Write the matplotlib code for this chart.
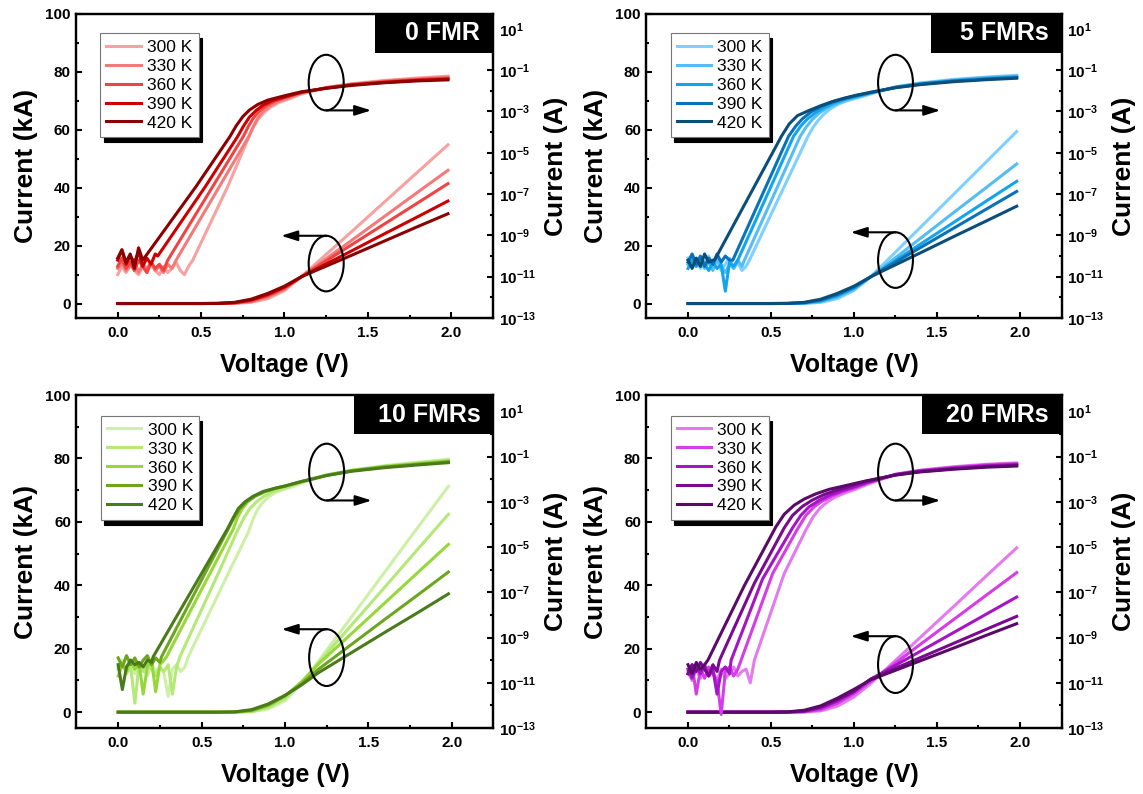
import matplotlib
matplotlib.use('Agg')
import numpy as np
import matplotlib.pyplot as plt
from matplotlib.patches import Ellipse, Rectangle
from matplotlib.ticker import FixedLocator, NullFormatter, FuncFormatter, MultipleLocator

plt.rcParams['font.family'] = ['Liberation Sans', 'DejaVu Sans']
plt.rcParams['font.weight'] = 'bold'
plt.rcParams['mathtext.fontset'] = 'custom'
plt.rcParams['mathtext.rm'] = 'Liberation Sans:bold'
plt.rcParams['mathtext.bf'] = 'Liberation Sans:bold'
plt.rcParams['axes.linewidth'] = 1.6

temps = ['300 K', '330 K', '360 K', '390 K', '420 K']
titles = ['0 FMR', '5 FMRs', '10 FMRs', '20 FMRs']

colors_0 = ['#F7A1A1', '#F47A7A', '#EF4444', '#CC0000', '#8B0000']
colors_5 = ['#7DD0FF', '#55BCF5', '#12A5EE', '#0A72B8', '#0B4E7A']
colors_10 = ['#CDEFA6', '#B4E877', '#96D83A', '#6CA61E', '#4B7A1A']
colors_20 = ['#E57AF0', '#D63CE8', '#A515C5', '#7A0A8F', '#5A0A68']

# linear current (kA) read at these voltages
lin_v = [0.0, 0.5, 0.6, 0.7, 0.8, 0.9, 1.0, 1.1, 1.2, 1.4, 1.6, 1.8, 1.98]

lin_0 = [[0, 0, 0, 0.05, 0.4, 1.7, 4.5, 9.2, 14.4, 24.7, 35.1, 45.5, 54.8],
         [0, 0, 0, 0.1, 0.7, 2.3, 5.0, 9.2, 13.4, 21.7, 30.1, 38.5, 46.0],
         [0, 0, 0.02, 0.2, 0.9, 2.7, 5.3, 9.2, 12.9, 20.2, 27.5, 34.8, 41.4],
         [0, 0, 0.03, 0.3, 1.2, 3.1, 5.7, 9.2, 12.2, 18.1, 24.1, 30.0, 35.4],
         [0, 0, 0.05, 0.4, 1.5, 3.5, 6.0, 9.2, 11.7, 16.6, 21.6, 26.6, 31.0]]
lin_5 = [[0, 0, 0, 0.05, 0.4, 1.7, 4.5, 9.2, 14.9, 26.3, 37.7, 49.1, 59.4],
         [0, 0, 0, 0.1, 0.7, 2.3, 5.0, 9.2, 13.6, 22.5, 31.4, 40.2, 48.2],
         [0, 0, 0.02, 0.2, 0.9, 2.7, 5.3, 9.2, 12.95, 20.5, 28.0, 35.5, 42.2],
         [0, 0, 0.03, 0.3, 1.2, 3.1, 5.7, 9.2, 12.6, 19.3, 26.0, 32.7, 38.7],
         [0, 0, 0.05, 0.4, 1.5, 3.5, 6.0, 9.2, 12.0, 17.5, 23.1, 28.6, 33.6]]
lin_10 = [[0, 0, 0, 0, 0.1, 1.0, 3.6, 9.0, 16.0, 30.1, 44.3, 58.5, 71.2],
          [0, 0, 0, 0, 0.2, 1.5, 4.3, 9.3, 15.5, 27.5, 39.5, 51.6, 62.4],
          [0, 0, 0, 0, 0.4, 2.0, 5.0, 9.6, 15.1, 24.8, 34.5, 44.2, 52.9],
          [0, 0, 0, 0.05, 0.6, 2.3, 5.2, 9.0, 13.5, 21.4, 29.3, 37.1, 44.2],
          [0, 0, 0, 0.1, 0.8, 2.6, 5.3, 8.6, 12.4, 18.8, 25.2, 31.5, 37.3]]
lin_20 = [[0, 0, 0, 0.05, 0.4, 1.9, 4.8, 9.0, 13.9, 23.6, 33.3, 43.1, 51.8],
          [0, 0, 0, 0.1, 0.8, 2.8, 5.8, 9.7, 13.5, 21.4, 29.2, 37.0, 44.0],
          [0, 0, 0.02, 0.25, 1.3, 3.5, 6.4, 10.4, 13.3, 19.2, 25.1, 31.0, 36.3],
          [0, 0, 0.05, 0.4, 1.7, 4.0, 6.6, 10.4, 12.7, 17.2, 21.7, 26.2, 30.2],
          [0, 0, 0.1, 0.6, 2.0, 4.4, 7.2, 10.2, 12.2, 16.2, 20.2, 24.3, 27.9]]

# log10 of current (A): noisy floor sampled on noise_v, then read points (V, log10 I)
noise_v = [0.0, 0.025, 0.05, 0.075, 0.1, 0.125, 0.15, 0.175, 0.2, 0.225,
           0.25, 0.275, 0.3, 0.325, 0.35, 0.375, 0.4, 0.425]

noise_0 = [[-10.9, -10.5, -10.8, -10.4, -10.7, -10.9, -10.5, -10.8, -10.4, -10.7, -10.9, -10.5, -10.8, -10.6, -10.3, -10.7, -10.9, -10.5],
           [-10.6, -10.3, -10.7, -10.5, -10.2, -10.8, -10.4, -10.6, -10.3, -10.7, -10.5, -10.8, -10.4, -10.6],
           [-10.5, -10.1, -10.6, -10.3, -10.7, -10.2, -10.5, -10.8, -10.3, -10.6, -10.4, -10.7],
           [-10.2, -9.7, -10.4, -10.0, -10.3, -9.8, -10.5, -10.1, -10.4, -9.9],
           [-10.1, -9.7, -10.3, -9.9, -10.6, -9.6]]
rise_0 = [[(0.45, -10.2), (0.66, -6.63), (0.78, -4.35), (0.81, -3.8), (0.84, -3.4), (0.875, -3.07),
           (0.915, -2.8), (0.965, -2.57), (1.03, -2.38), (1.1, -2.15),
           (1.25, -1.84), (1.4, -1.66), (1.6, -1.5), (1.8, -1.38), (1.98, -1.29)],
          [(0.35, -10.2), (0.61, -6.63), (0.787, -4.2), (0.815, -3.7), (0.84, -3.32), (0.87, -3.0),
           (0.91, -2.74), (0.96, -2.52), (1.02, -2.35), (1.1, -2.12),
           (1.25, -1.85), (1.4, -1.68), (1.6, -1.53), (1.8, -1.42), (1.98, -1.34)],
          [(0.30, -10.2), (0.57, -6.63), (0.754, -4.2), (0.785, -3.7), (0.815, -3.3), (0.85, -2.97),
           (0.89, -2.72), (0.94, -2.5), (1.0, -2.33), (1.1, -2.09),
           (1.25, -1.86), (1.4, -1.7), (1.6, -1.56), (1.8, -1.46), (1.98, -1.39)],
          [(0.24, -10.0), (0.526, -6.63), (0.72, -4.2), (0.755, -3.7), (0.79, -3.27), (0.83, -2.95),
           (0.87, -2.7), (0.93, -2.47), (1.0, -2.3), (1.1, -2.07),
           (1.25, -1.87), (1.4, -1.72), (1.6, -1.59), (1.8, -1.49), (1.98, -1.43)],
          [(0.15, -10.2), (0.47, -6.63), (0.674, -4.2), (0.71, -3.7), (0.75, -3.25), (0.79, -2.93),
           (0.84, -2.66), (0.9, -2.45), (1.0, -2.24), (1.1, -2.05),
           (1.25, -1.88), (1.4, -1.74), (1.6, -1.61), (1.8, -1.52), (1.98, -1.47)]]

noise_5 = [[-10.1, -10.5, -10.2, -10.6, -10.3, -10.0, -10.5, -10.2, -10.7, -10.4, -10.1, -10.6, -10.3, -10.7, -10.5],
           [-10.4, -10.0, -10.5, -10.2, -10.6, -10.3, -10.7, -10.1, -10.5, -10.8, -10.4, -10.6, -10.2, -10.5],
           [-10.6, -10.2, -10.5, -10.1, -10.4, -10.7, -10.3, -10.6, -10.4, -11.7, -10.3, -10.5],
           [-10.3, -9.9, -10.4, -10.0, -10.5, -10.1, -10.4, -9.9, -10.3, -10.0, -10.2],
           [-10.2, -10.6, -10.1, -10.5, -9.9, -10.3, -10.2]]
rise_5 = [[(0.37, -10.2), (0.58, -6.63), (0.723, -4.2), (0.755, -3.75), (0.785, -3.42), (0.82, -3.12),
           (0.86, -2.86), (0.91, -2.63), (0.97, -2.45), (1.04, -2.3), (1.1, -2.15),
           (1.25, -1.81), (1.4, -1.62), (1.6, -1.45), (1.8, -1.33), (1.98, -1.25)],
          [(0.34, -10.2), (0.54, -6.63), (0.676, -4.2), (0.715, -3.72), (0.75, -3.38), (0.79, -3.08),
           (0.84, -2.82), (0.9, -2.6), (0.96, -2.42), (1.03, -2.28), (1.1, -2.12),
           (1.25, -1.82), (1.4, -1.64), (1.6, -1.48), (1.8, -1.36), (1.98, -1.29)],
          [(0.30, -10.2), (0.50, -6.63), (0.636, -4.2), (0.68, -3.7), (0.72, -3.36), (0.77, -3.05),
           (0.82, -2.8), (0.88, -2.58), (0.95, -2.4), (1.02, -2.26), (1.1, -2.1),
           (1.25, -1.83), (1.4, -1.66), (1.6, -1.51), (1.8, -1.4), (1.98, -1.33)],
          [(0.27, -10.2), (0.47, -6.63), (0.606, -4.2), (0.65, -3.7), (0.69, -3.35), (0.74, -3.03),
           (0.8, -2.76), (0.87, -2.54), (0.94, -2.37), (1.01, -2.24), (1.1, -2.08),
           (1.25, -1.84), (1.4, -1.68), (1.6, -1.53), (1.8, -1.43), (1.98, -1.36)],
          [(0.16, -10.2), (0.40, -6.63), (0.563, -4.2), (0.61, -3.6), (0.66, -3.2), (0.73, -2.95),
           (0.8, -2.72), (0.87, -2.52), (0.94, -2.36), (1.01, -2.22), (1.1, -2.07),
           (1.25, -1.85), (1.4, -1.7), (1.6, -1.56), (1.8, -1.46), (1.98, -1.39)]]

noise_10 = [[-10.3, -10.0, -10.5, -10.2, -10.6, -10.1, -10.4, -10.7, -10.2, -10.5, -10.3, -10.6, -11.6, -10.4, -10.2, -10.5, -10.3],
            [-10.4, -10.1, -10.6, -10.3, -11.9, -10.2, -10.5, -10.1, -10.4, -10.7, -10.3, -10.5, -10.2, -11.5, -10.3],
            [-10.7, -10.2, -10.5, -10.0, -10.4, -10.1, -11.5, -10.3, -10.0, -11.4, -10.2, -10.0],
            [-9.9, -10.3, -9.8, -10.2, -9.9, -10.3, -10.0, -9.8, -10.2, -9.9, -10.1],
            [-10.2, -11.3, -10.3, -10.0, -10.2, -10.1, -10.3, -10.0, -10.1]]
rise_10 = [[(0.42, -9.85), (0.66, -6.17), (0.78, -4.35), (0.81, -3.75), (0.835, -3.35), (0.865, -3.05),
            (0.9, -2.8), (0.94, -2.6), (0.99, -2.46), (1.04, -2.35), (1.1, -2.17),
            (1.25, -1.81), (1.4, -1.6), (1.6, -1.4), (1.8, -1.25), (1.98, -1.12)],
           [(0.37, -9.85), (0.60, -6.17), (0.72, -4.2), (0.755, -3.7), (0.79, -3.3), (0.83, -3.0),
            (0.87, -2.78), (0.92, -2.58), (0.97, -2.44), (1.02, -2.33), (1.1, -2.14),
            (1.25, -1.82), (1.4, -1.61), (1.6, -1.42), (1.8, -1.28), (1.98, -1.16)],
           [(0.29, -9.85), (0.55, -6.17), (0.69, -4.2), (0.715, -3.7), (0.745, -3.3), (0.78, -2.98),
            (0.83, -2.72), (0.89, -2.53), (0.95, -2.4), (1.0, -2.31), (1.1, -2.1),
            (1.25, -1.82), (1.4, -1.62), (1.6, -1.44), (1.8, -1.31), (1.98, -1.2)],
           [(0.26, -9.85), (0.52, -6.17), (0.66, -4.2), (0.695, -3.7), (0.73, -3.3), (0.77, -3.0),
            (0.82, -2.75), (0.88, -2.55), (0.94, -2.41), (1.0, -2.31), (1.1, -2.11),
            (1.25, -1.83), (1.4, -1.63), (1.6, -1.46), (1.8, -1.34), (1.98, -1.23)],
           [(0.21, -9.85), (0.50, -6.17), (0.655, -4.2), (0.69, -3.7), (0.72, -3.3), (0.76, -3.0),
            (0.81, -2.75), (0.87, -2.54), (0.94, -2.4), (1.0, -2.3), (1.1, -2.1),
            (1.25, -1.84), (1.4, -1.65), (1.6, -1.49), (1.8, -1.37), (1.98, -1.27)]]

noise_20 = [[-10.5, -10.9, -10.4, -10.8, -10.3, -10.7, -10.5, -10.9, -10.4, -10.8, -10.6, -10.3, -10.7, -10.5, -10.4, -11.0],
            [-10.6, -10.2, -11.5, -10.4, -10.8, -10.3, -10.6, -10.9, -12.4, -10.5, -10.3, -10.7, -10.4],
            [-10.4, -10.8, -10.3, -10.6, -10.2, -10.7, -10.4, -11.5, -10.5, -10.3, -10.6],
            [-10.6, -10.2, -10.5, -10.1, -10.4, -10.7, -10.2, -10.5],
            [-10.2, -10.6, -10.1, -10.4, -10.2]]
rise_20 = [[(0.40, -10.0), (0.58, -6.17), (0.71, -4.25), (0.755, -3.65), (0.795, -3.28), (0.84, -3.0),
            (0.89, -2.78), (0.95, -2.6), (1.01, -2.44), (1.09, -2.2),
            (1.25, -1.78), (1.4, -1.6), (1.6, -1.45), (1.8, -1.34), (1.98, -1.28)],
           [(0.32, -10.0), (0.51, -6.17), (0.66, -4.2), (0.71, -3.6), (0.76, -3.22), (0.81, -2.96),
            (0.87, -2.74), (0.93, -2.56), (1.0, -2.4), (1.08, -2.17),
            (1.25, -1.79), (1.4, -1.62), (1.6, -1.48), (1.8, -1.37), (1.98, -1.31)],
           [(0.26, -10.0), (0.45, -6.4), (0.63, -4.15), (0.68, -3.6), (0.73, -3.22), (0.79, -2.94),
            (0.85, -2.72), (0.92, -2.53), (0.99, -2.37), (1.08, -2.15),
            (1.25, -1.8), (1.4, -1.64), (1.6, -1.51), (1.8, -1.41), (1.98, -1.35)],
           [(0.19, -10.0), (0.40, -6.6), (0.58, -4.15), (0.63, -3.6), (0.69, -3.2), (0.75, -2.92),
            (0.82, -2.68), (0.89, -2.5), (0.97, -2.33), (1.07, -2.1),
            (1.25, -1.81), (1.4, -1.66), (1.6, -1.54), (1.8, -1.44), (1.98, -1.39)],
           [(0.12, -10.0), (0.34, -6.7), (0.53, -4.1), (0.58, -3.55), (0.64, -3.15), (0.7, -2.88),
            (0.77, -2.65), (0.85, -2.45), (0.94, -2.3), (1.07, -2.08),
            (1.25, -1.82), (1.4, -1.68), (1.6, -1.56), (1.8, -1.47), (1.98, -1.42)]]

panels = [
    dict(title=titles[0], colors=colors_0, lin=lin_0, noise=noise_0, rise=rise_0,
         pos=[0.0665, 0.5995, 0.3648, 0.3829], box_x=0.717, box_h=0.127,
         ell_h=19.2, up=76.3, low=13.8),
    dict(title=titles[1], colors=colors_5, lin=lin_5, noise=noise_5, rise=rise_5,
         pos=[0.5656, 0.5995, 0.3631, 0.3829], box_x=0.686, box_h=0.127,
         ell_h=19.2, up=76.3, low=15.0),
    dict(title=titles[2], colors=colors_10, lin=lin_10, noise=noise_10, rise=rise_10,
         pos=[0.0669, 0.0831, 0.3648, 0.4194], box_x=0.665, box_h=0.118,
         ell_h=17.9, up=75.7, low=17.2),
    dict(title=titles[3], colors=colors_20, lin=lin_20, noise=noise_20, rise=rise_20,
         pos=[0.5656, 0.0831, 0.3631, 0.4194], box_x=0.663, box_h=0.118,
         ell_h=17.9, up=75.7, low=15.0),
]

fig = plt.figure(figsize=(11.43, 7.94), dpi=100)

for p in panels:
    ax = fig.add_axes(p['pos'])
    ax2 = ax.twinx()

    handles = []
    for i, t in enumerate(temps):
        h, = ax.plot(lin_v, p['lin'][i], color=p['colors'][i], lw=2.2, label=t)
        handles.append(h)
        nz = p['noise'][i]
        v = noise_v[:len(nz)] + [r[0] for r in p['rise'][i]]
        lg = nz + [r[1] for r in p['rise'][i]]
        ax2.plot(v, 10 ** np.array(lg), color=p['colors'][i], lw=2.2)

    ax.set_xlim(-0.25, 2.25)
    ax.set_ylim(-5, 100)
    ax2.set_yscale('log')
    ax2.set_ylim(1e-13, 10 ** 1.72)

    ax.xaxis.set_major_locator(FixedLocator([0.0, 0.5, 1.0, 1.5, 2.0]))
    ax.xaxis.set_minor_locator(FixedLocator([0.25, 0.75, 1.25, 1.75]))
    ax.xaxis.set_major_formatter(FuncFormatter(lambda x, pos: '%.1f' % x))
    ax.yaxis.set_major_locator(MultipleLocator(20))
    ax.yaxis.set_minor_locator(FixedLocator([10, 30, 50, 70, 90]))
    ax2.yaxis.set_major_locator(FixedLocator([10.0 ** k for k in range(-13, 2, 2)]))
    ax2.yaxis.set_minor_locator(FixedLocator([10.0 ** k for k in range(-12, 1, 2)]))
    ax2.yaxis.set_major_formatter(FuncFormatter(lambda y, pos: r'$\mathbf{10^{%d}}$' % round(np.log10(y))))
    ax2.yaxis.set_minor_formatter(NullFormatter())

    ax.tick_params(which='both', direction='in', width=1.5, labelsize=11, top=False, right=False)
    ax.tick_params(which='major', length=4.5)
    ax.tick_params(which='minor', length=2.5)
    ax.tick_params(axis='x', pad=6)
    ax.tick_params(axis='y', pad=4)
    ax2.tick_params(which='both', direction='in', width=1.5, labelsize=11, left=False)
    ax2.tick_params(which='major', length=4.5, pad=4)
    ax2.tick_params(which='minor', length=2.5)

    ax.set_xlabel('Voltage (V)', fontsize=18, fontweight='bold', labelpad=9)
    ax.set_ylabel('Current (kA)', fontsize=19, fontweight='bold', labelpad=5)
    ax2.set_ylabel('Current (A)', fontsize=19, fontweight='bold', labelpad=6)

    # ellipses and arrows marking which axis each group belongs to
    for cy in (p['up'], p['low']):
        ax2.add_patch(Ellipse((1.25, cy), 0.21, p['ell_h'], transform=ax.transData,
                              fill=False, ec='k', lw=1.5, zorder=5))
    astyle = dict(arrowstyle='-|>,head_length=0.7,head_width=0.22', color='k', lw=1.5,
                  mutation_scale=14, shrinkA=0, shrinkB=0)
    y_up = p['up'] - p['ell_h'] / 2
    y_low = p['low'] + p['ell_h'] / 2
    ax2.annotate('', xy=(1.52, y_up), xytext=(1.25, y_up), xycoords=ax.transData,
                 textcoords=ax.transData, arrowprops=astyle)
    ax2.annotate('', xy=(0.98, y_low), xytext=(1.25, y_low), xycoords=ax.transData,
                 textcoords=ax.transData, arrowprops=astyle)

    # black title box in the corner
    ax2.add_patch(Rectangle((p['box_x'], 1 - p['box_h']), 1 - p['box_x'], p['box_h'],
                            transform=ax.transAxes, fc='black', ec='black', lw=0, zorder=6,
                            clip_on=False))
    ax2.text(0.969, 1 - p['box_h'] / 2, p['title'], transform=ax.transAxes, color='white',
             fontsize=18, fontweight='bold', ha='right', va='center', zorder=7)

    leg = ax2.legend(handles=handles, loc='upper left', bbox_to_anchor=(0.058, 0.936),
                     borderaxespad=0, prop={'weight': 'normal', 'size': 12.5},
                     handlelength=2.0, handletextpad=0.35, borderpad=0.35, labelspacing=0.22,
                     fancybox=False, framealpha=1,
                     shadow={'ox': 2.5, 'oy': -3.6, 'shade': 1.0, 'alpha': 1})
    leg.get_frame().set_edgecolor('#777777')
    leg.get_frame().set_linewidth(0.8)

fig.savefig('out.png', dpi=100)
